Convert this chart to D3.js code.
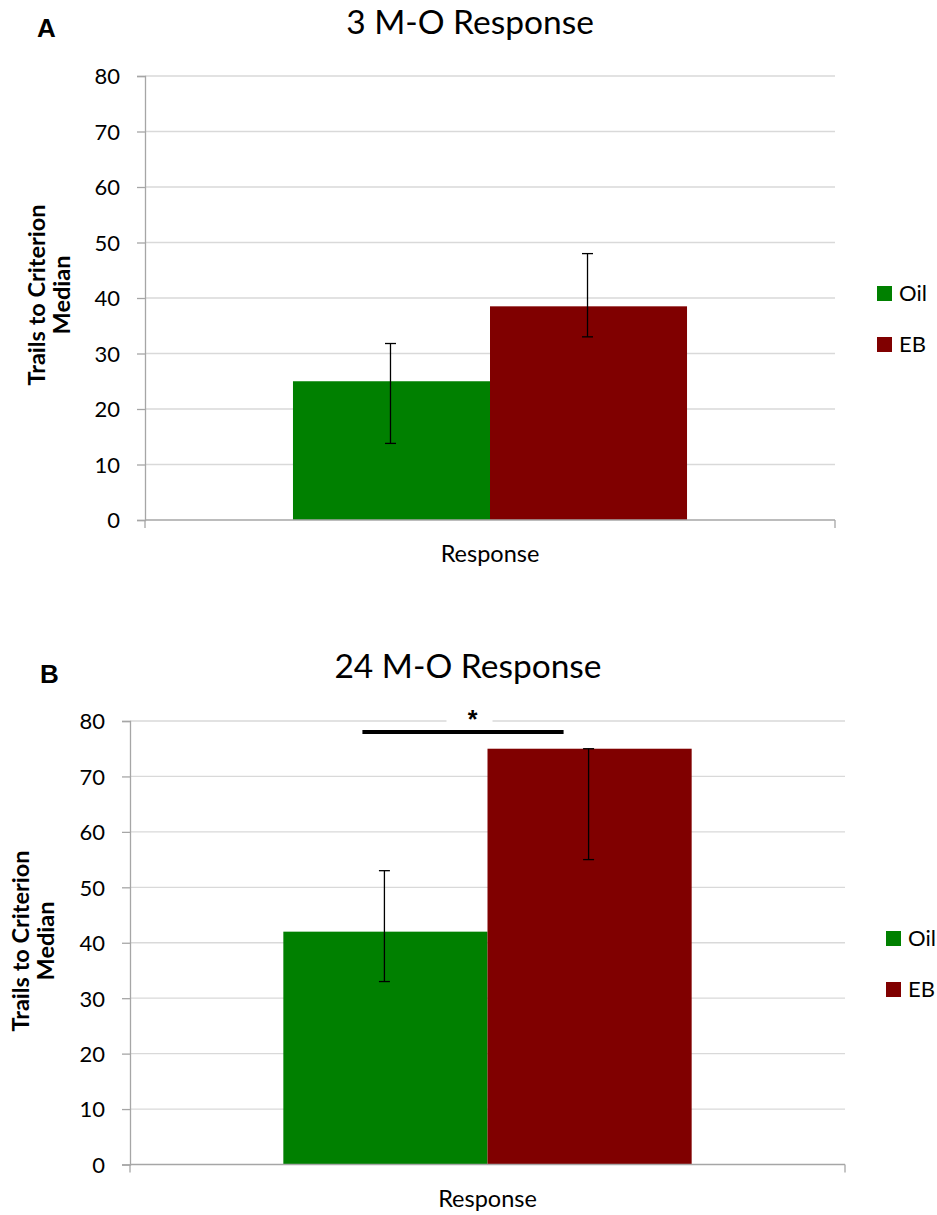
<!DOCTYPE html>
<html>
<head>
<meta charset="utf-8">
<script src="https://cdn.jsdelivr.net/npm/d3@7"></script>
<style>
  html, body { margin: 0; padding: 0; background: #fff; }
  svg { display: block; }
  .tick-label, .cat-label, .legend-text, .title { font-family: Lato, "Noto Sans", sans-serif; fill: #000; }
  .axis-title { font-family: Lato, "Noto Sans", sans-serif; font-weight: bold; fill: #000; }
  .bold-label { font-family: "Liberation Sans", Arial, sans-serif; font-weight: bold; fill: #000; }
</style>
</head>
<body>
<svg id="chart" width="937" height="1215"></svg>
<script>
// Groups and the category shown on the x axis
const groups = ["Oil", "EB"];
const category = ["Response"];
const yTickValues = [0, 10, 20, 30, 40, 50, 60, 70, 80];

// Panel A: 3-month-old animals
const titleA = "3 M-O Response";
const mediansA = [25, 38.5];
const errLowA = [13.8, 33];
const errHighA = [31.8, 48];

// Panel B: 24-month-old animals
const titleB = "24 M-O Response";
const mediansB = [42, 75];
const errLowB = [33, 55];
const errHighB = [53, 75];
const sigLevelB = 78;   // height of the significance bracket
const sigMarkB = "*";

const yTitleLines = ["Trails to Criterion", "Median"];

const colors = { Oil: "#008000", EB: "#800000" };

const svg = d3.select("#chart");

function drawPanel(opt) {
  const g = svg.append("g");
  const y = d3.scaleLinear().domain([0, 80]).range([opt.bottom, opt.top]);
  const x0 = d3.scaleBand().domain(category).range([opt.left, opt.right])
    .paddingInner(0.273).paddingOuter(0.273);
  const x1 = d3.scaleBand().domain(groups).range([0, x0.bandwidth()]).padding(0);

  // gridlines
  g.append("g").selectAll("line").data(yTickValues.filter(d => d > 0)).join("line")
    .attr("x1", opt.left).attr("x2", opt.right)
    .attr("y1", d => y(d)).attr("y2", d => y(d))
    .attr("stroke", "#d9d9d9").attr("stroke-width", 1.3);

  // y axis
  const yAxis = d3.axisLeft(y).tickValues(yTickValues).tickSize(8).tickPadding(17);
  const ya = g.append("g").attr("transform", `translate(${opt.left},0)`).call(yAxis);
  ya.select(".domain").attr("stroke", "#a6a6a6").attr("stroke-width", 1.3);
  ya.selectAll(".tick line").attr("stroke", "#a6a6a6").attr("stroke-width", 1.3);
  ya.selectAll(".tick text").attr("class", "tick-label").style("font-size", "22px")
    .attr("font-family", null).attr("fill", "#000").attr("dy", "0.36em");

  // significance mark
  if (opt.sig) {
    const cx = x0(category[0]) + x1.bandwidth();
    g.append("rect").attr("x", cx - 41).attr("y", y(sigLevelB) - 36)
      .attr("width", 46).attr("height", 26).attr("fill", "#fff");
    const c1 = x0(category[0]) + x1(groups[0]) + x1.bandwidth() / 2;
    const c2 = x0(category[0]) + x1(groups[1]) + x1.bandwidth() / 2;
    g.append("line").attr("x1", c1 - 23).attr("x2", c2 - 26)
      .attr("y1", y(sigLevelB)).attr("y2", y(sigLevelB))
      .attr("stroke", "#000").attr("stroke-width", 4);
    g.append("text").attr("class", "bold-label")
      .attr("x", (c1 + c2) / 2 - 15).attr("y", y(sigLevelB) - 4)
      .attr("text-anchor", "middle").style("font-size", "25px").text(sigMarkB);
  }

  // bars
  const rows = groups.map((k, i) => ({ key: k, v: opt.med[i], lo: opt.lo[i], hi: opt.hi[i] }));
  g.append("g").selectAll("rect").data(rows).join("rect")
    .attr("x", d => x0(category[0]) + x1(d.key))
    .attr("width", x1.bandwidth())
    .attr("y", d => y(d.v))
    .attr("height", d => y(0) - y(d.v))
    .attr("fill", d => colors[d.key]);

  // x axis
  g.append("line").attr("x1", opt.left).attr("x2", opt.right)
    .attr("y1", y(0)).attr("y2", y(0)).attr("stroke", "#a6a6a6").attr("stroke-width", 1.5);
  g.append("g").selectAll("line").data(x0.range()).join("line")
    .attr("x1", d => d).attr("x2", d => d).attr("y1", y(0)).attr("y2", y(0) + 8)
    .attr("stroke", "#a6a6a6").attr("stroke-width", 1.3);
  g.append("text").attr("class", "cat-label")
    .attr("x", x0(category[0]) + x0.bandwidth() / 2).attr("y", y(0) + 42)
    .attr("text-anchor", "middle").style("font-size", "23.5px").text(category[0]);

  // error bars
  const eb = g.append("g").selectAll("g").data(rows).join("g")
    .attr("transform", d => `translate(${x0(category[0]) + x1(d.key) + x1.bandwidth() / 2 - 1},0)`);
  eb.append("line").attr("y1", d => y(d.lo)).attr("y2", d => y(d.hi))
    .attr("stroke", "#000").attr("stroke-width", 1.3);
  eb.append("line").attr("x1", -5.5).attr("x2", 5.5).attr("y1", d => y(d.lo)).attr("y2", d => y(d.lo))
    .attr("stroke", "#000").attr("stroke-width", 1.3);
  eb.append("line").attr("x1", -5.5).attr("x2", 5.5).attr("y1", d => y(d.hi)).attr("y2", d => y(d.hi))
    .attr("stroke", "#000").attr("stroke-width", 1.3);

  // title and panel letter
  g.append("text").attr("class", "title")
    .attr("x", opt.titleX).attr("y", opt.titleY).attr("text-anchor", "middle")
    .style("font-size", "33.5px").text(opt.title);
  g.append("text").attr("class", "bold-label")
    .attr("x", opt.letterX).attr("y", opt.letterY).style("font-size", "26px").text(opt.letter);

  // y axis title
  const yt = g.append("text").attr("class", "axis-title")
    .attr("transform", `translate(${opt.yTitleX},${opt.yTitleY}) rotate(-90)`)
    .attr("text-anchor", "middle").style("font-size", "23.5px");
  yTitleLines.forEach((t, i) => {
    yt.append("tspan").attr("x", 0).attr("dy", i === 0 ? 0 : 25).text(t);
  });

  // legend
  const lg = g.append("g").attr("transform", `translate(${opt.legX},${opt.legY})`);
  const li = lg.selectAll("g").data(groups).join("g")
    .attr("transform", (d, i) => `translate(0,${i * 51})`);
  li.append("rect").attr("width", 15).attr("height", 15).attr("fill", d => colors[d]);
  li.append("text").attr("class", "legend-text").attr("x", 22).attr("y", 15)
    .style("font-size", "22px").text(d => d);
}

drawPanel({
  left: 145, right: 835, top: 76, bottom: 520,
  med: mediansA, lo: errLowA, hi: errHighA,
  title: titleA, titleX: 470, titleY: 34,
  letter: "A", letterX: 37, letterY: 37,
  yTitleX: 45, yTitleY: 295,
  legX: 877, legY: 286, sig: false
});

drawPanel({
  left: 130, right: 845, top: 721, bottom: 1164.5,
  med: mediansB, lo: errLowB, hi: errHighB,
  title: titleB, titleX: 468, titleY: 678,
  letter: "B", letterX: 40, letterY: 683,
  yTitleX: 29, yTitleY: 941,
  legX: 886, legY: 931, sig: true
});
</script>
</body>
</html>
